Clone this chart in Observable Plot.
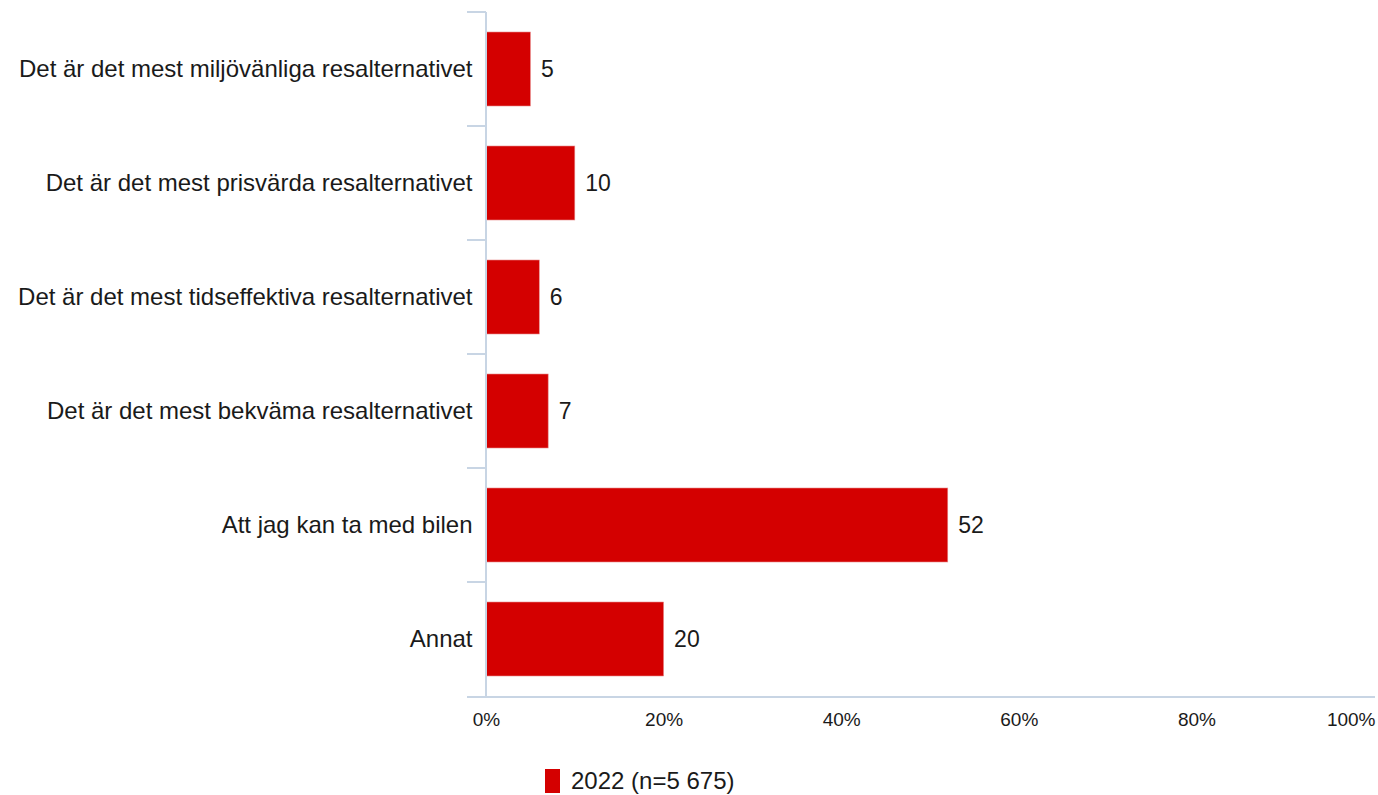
<!DOCTYPE html>
<html>
<head>
<meta charset="utf-8">
<script src="https://cdn.jsdelivr.net/npm/d3@7"></script>
<script src="https://cdn.jsdelivr.net/npm/@observablehq/plot@0.6"></script>
<style>
  body { margin: 0; background: #fff; font-family: "Liberation Sans", Arial, sans-serif; }
  #wrap { position: relative; width: 1378px; height: 795px; }
  #legend { position: absolute; left: 545px; top: 767px; display: flex; align-items: center; font-size: 24px; color: #1a1a1a; }
  #legend .sw { width: 15px; height: 24px; background: #d40000; margin-right: 11px; }
</style>
</head>
<body>
<div id="wrap"><div id="chart"></div><div id="legend"><div class="sw"></div><span id="legtext"></span></div></div>
<script>
const categories = [
  "Det är det mest miljövänliga resalternativet",
  "Det är det mest prisvärda resalternativet",
  "Det är det mest tidseffektiva resalternativet",
  "Det är det mest bekväma resalternativet",
  "Att jag kan ta med bilen",
  "Annat"
];
const values2022 = [5, 10, 6, 7, 52, 20];
const xTicks = [0, 20, 40, 60, 80, 100];
const seriesName = "2022 (n=5 675)";

const data = categories.map((c, i) => ({cat: c, value: values2022[i]}));
const axisColor = "#c8d5e4";

function frameLines(index, scales, values, dims) {
  const {width, height, marginTop, marginBottom, marginRight} = dims;
  const y = scales.y, x = scales.x;
  const step = y.step(), bw = y.bandwidth();
  const x0 = x(0);
  const bottom = height - marginBottom;
  const g = d3.create("svg:g").attr("stroke", axisColor).attr("stroke-width", 2).attr("fill", "none");
  g.append("line").attr("x1", x0).attr("x2", x0).attr("y1", marginTop).attr("y2", bottom);
  g.append("line").attr("x1", x0 - 19).attr("x2", width - marginRight + 1).attr("y1", bottom).attr("y2", bottom);
  const bounds = categories.map(c => y(c) - (step - bw) / 2);
  bounds.forEach(b => g.append("line").attr("x1", x0 - 19).attr("x2", x0).attr("y1", b).attr("y2", b));
  return g.node();
}

const plot = Plot.plot({
  width: 1378,
  height: 745,
  marginLeft: 486,
  marginRight: 4,
  marginTop: 12,
  marginBottom: 48,
  style: {fontFamily: "'Liberation Sans', Arial, sans-serif", color: "#1a1a1a", background: "#fff"},
  x: {domain: [0, 100]},
  y: {domain: categories, paddingInner: 0.35, paddingOuter: 0.175},
  marks: [
    Plot.barX(data, {x: "value", y: "cat", fill: "#d40000", stroke: "#e88a8a", strokeWidth: 0.6}),
    frameLines,
    Plot.text(data, {x: "value", y: "cat", text: d => String(d.value), dx: 10, textAnchor: "start", fontSize: 23, fill: "#1a1a1a"}),
    Plot.axisY({tickSize: 0, tickPadding: 14, fontSize: 24, label: null}),
    Plot.axisX({ticks: xTicks.slice(0, -1), tickFormat: d => d + "%", tickSize: 0, tickPadding: 15, fontSize: 19, label: null}),
    Plot.axisX({ticks: xTicks.slice(-1), tickFormat: d => d + "%", tickSize: 0, tickPadding: 15, fontSize: 19, label: null, textAnchor: "end", dx: 1})
  ]
});
document.getElementById("chart").appendChild(plot);
document.getElementById("legtext").textContent = seriesName;
</script>
</body>
</html>
